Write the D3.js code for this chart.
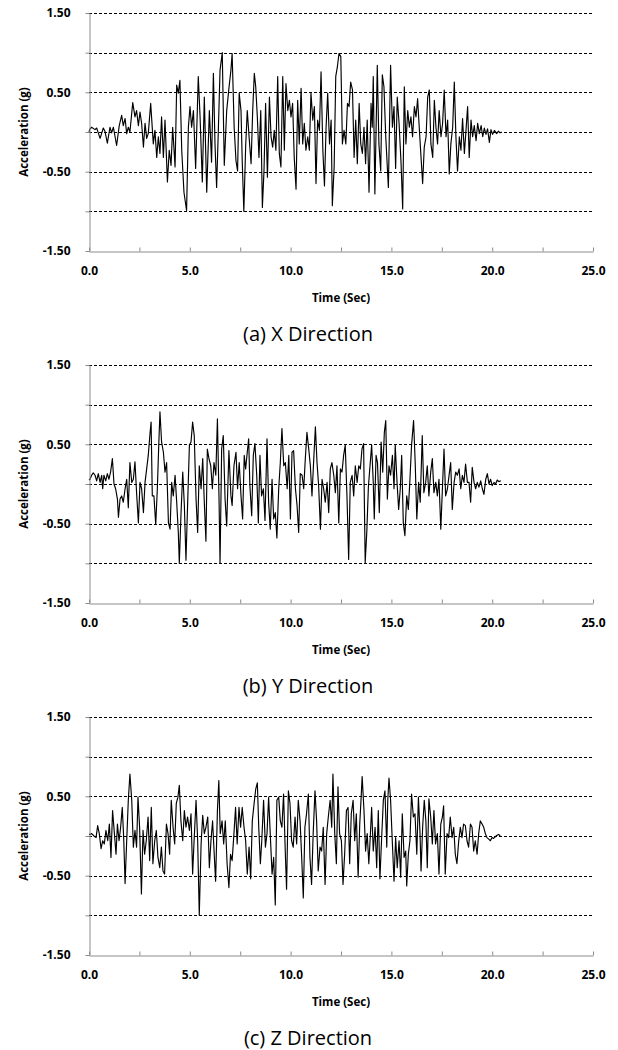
<!DOCTYPE html>
<html>
<head>
<meta charset="utf-8">
<script src="https://cdn.jsdelivr.net/npm/d3@7"></script>
<style>
  html, body { margin: 0; padding: 0; background: #fff; }
  svg { display: block; }
  text { font-family: "Open Sans", "Noto Sans", sans-serif; fill: #000; }
</style>
</head>
<body>
<svg id="chart" width="618" height="1050"></svg>
<script>
// Ground acceleration time histories, [time (s), acceleration (g)]
const xDirection = [[0,0.0],[0.05,0.04],[0.13,0.06],[0.30,0.03],[0.38,0.05],[0.55,-0.08],[0.71,0.05],[0.79,0.01],[0.91,-0.14],[1.04,0.06],[1.12,-0.01],[1.21,0.06],[1.37,-0.17],[1.50,0.08],[1.62,0.21],[1.70,0.08],[1.79,0.17],[1.87,-0.02],[1.95,0.06],[2.03,0.0],[2.17,0.37],[2.28,0.19],[2.36,0.27],[2.45,0.08],[2.53,0.25],[2.61,0.11],[2.70,-0.19],[2.78,0.11],[2.86,-0.08],[2.94,-0.02],[3.06,0.36],[3.19,-0.15],[3.27,0.02],[3.36,-0.32],[3.44,-0.06],[3.52,-0.27],[3.60,0.19],[3.69,-0.32],[3.77,0.15],[3.89,-0.63],[3.98,-0.23],[4.07,-0.42],[4.15,0.06],[4.27,-0.44],[4.35,0.59],[4.43,0.49],[4.51,0.65],[4.60,-0.23],[4.71,-0.76],[4.84,-0.99],[4.93,0.06],[5.01,0.32],[5.09,0.06],[5.18,0.27],[5.29,-0.46],[5.42,0.70],[5.51,0.19],[5.62,-0.63],[5.72,0.44],[5.84,-0.76],[5.97,0.27],[6.08,-0.38],[6.17,0.74],[6.25,-0.15],[6.33,-0.70],[6.42,0.06],[6.50,0.78],[6.61,1.00],[6.71,-0.42],[6.83,0.27],[6.94,0.55],[7.04,0.78],[7.10,0.99],[7.20,0.06],[7.29,-0.36],[7.37,-0.49],[7.45,0.49],[7.54,0.27],[7.60,-0.36],[7.68,-1.0],[7.77,-0.19],[7.85,0.27],[7.94,-0.06],[8.04,-0.40],[8.12,0.27],[8.20,0.74],[8.27,0.57],[8.35,0.19],[8.43,-0.32],[8.52,0.27],[8.60,-0.95],[8.68,-0.49],[8.76,0.36],[8.85,-0.57],[8.95,0.44],[9.03,-0.06],[9.11,-0.19],[9.19,0.02],[9.27,-0.23],[9.36,0.70],[9.44,-0.27],[9.52,-0.44],[9.61,0.70],[9.69,-0.23],[9.77,0.61],[9.86,0.27],[9.94,0.40],[10.02,0.19],[10.10,0.36],[10.18,-0.32],[10.27,-0.72],[10.35,0.40],[10.43,-0.15],[10.52,0.55],[10.60,-0.15],[10.68,0.11],[10.76,-0.23],[10.85,-0.06],[10.93,-0.23],[11.01,0.49],[11.10,0.15],[11.18,0.32],[11.26,-0.65],[11.34,0.15],[11.43,0.02],[11.51,0.76],[11.60,-0.23],[11.68,-0.68],[11.76,0.06],[11.84,0.49],[11.93,-0.15],[12.01,0.15],[12.07,-0.93],[12.16,-0.44],[12.24,0.70],[12.32,0.82],[12.40,0.99],[12.49,0.95],[12.57,-0.15],[12.65,0.02],[12.74,-0.15],[12.82,0.36],[12.90,0.32],[12.98,0.63],[13.07,0.53],[13.15,-0.32],[13.23,0.15],[13.31,-0.40],[13.40,0.36],[13.48,-0.15],[13.56,-0.27],[13.64,0.06],[13.72,-0.40],[13.80,0.15],[13.89,-0.76],[13.99,0.36],[14.05,0.06],[14.10,0.70],[14.18,-0.78],[14.30,0.84],[14.38,-0.15],[14.47,-0.49],[14.55,0.72],[14.63,0.57],[14.72,-0.06],[14.85,-0.70],[14.96,0.84],[15.05,0.06],[15.13,0.32],[15.21,-0.46],[15.29,0.44],[15.38,0.11],[15.48,-0.40],[15.56,-0.97],[15.64,0.57],[15.72,-0.15],[15.81,0.27],[15.89,0.06],[15.97,0.19],[16.05,-0.06],[16.14,0.32],[16.22,0.19],[16.30,0.42],[16.39,0.02],[16.47,-0.32],[16.55,-0.65],[16.63,-0.19],[16.72,-0.06],[16.80,0.44],[16.88,0.53],[16.96,-0.15],[17.05,-0.32],[17.13,0.40],[17.21,0.06],[17.29,-0.15],[17.37,0.27],[17.46,-0.06],[17.54,0.11],[17.62,0.53],[17.71,-0.06],[17.79,0.15],[17.87,-0.53],[17.95,-0.15],[18.04,0.06],[18.12,0.63],[18.20,-0.06],[18.28,-0.49],[18.37,-0.06],[18.45,-0.23],[18.53,0.17],[18.62,-0.27],[18.70,0.02],[18.78,0.32],[18.86,-0.32],[18.95,0.15],[19.03,-0.06],[19.11,0.08],[19.20,-0.11],[19.28,0.11],[19.36,-0.02],[19.45,0.08],[19.53,-0.06],[19.61,0.05],[19.69,-0.03],[19.77,0.04],[19.86,-0.13],[19.94,0.03],[20.02,-0.03],[20.11,0.02],[20.22,-0.02],[20.31,0.01],[20.39,-0.01],[20.47,0.0]];

const yDirection = [[0,0.05],[0.05,0.06],[0.13,0.11],[0.21,0.14],[0.30,0.11],[0.38,0.04],[0.46,0.13],[0.55,0.02],[0.63,0.11],[0.68,-0.06],[0.74,0.11],[0.83,0.04],[0.91,0.13],[0.99,0.06],[1.07,0.15],[1.16,0.32],[1.24,0.0],[1.32,-0.06],[1.41,-0.19],[1.46,-0.42],[1.54,-0.19],[1.62,-0.15],[1.70,-0.23],[1.79,-0.06],[1.87,0.06],[1.95,-0.30],[2.03,0.27],[2.12,0.02],[2.20,0.06],[2.28,0.28],[2.36,-0.11],[2.45,-0.49],[2.53,0.02],[2.61,-0.06],[2.70,-0.36],[2.78,0.02],[2.86,0.19],[2.94,0.36],[3.03,0.65],[3.08,0.78],[3.14,-0.15],[3.22,-0.15],[3.31,-0.51],[3.39,-0.06],[3.46,0.49],[3.52,0.91],[3.60,0.53],[3.69,0.40],[3.77,0.15],[3.85,0.27],[3.94,-0.49],[4.02,-0.57],[4.10,0.02],[4.18,-0.15],[4.27,0.11],[4.35,-0.23],[4.43,-0.61],[4.48,-1.0],[4.56,-0.40],[4.65,0.15],[4.73,-0.27],[4.81,-0.96],[4.89,-0.27],[4.98,0.49],[5.06,0.53],[5.14,0.78],[5.22,0.61],[5.31,-0.19],[5.39,-0.61],[5.47,0.23],[5.56,-0.06],[5.64,0.32],[5.72,-0.23],[5.80,-0.72],[5.87,0.44],[5.95,0.32],[6.04,0.23],[6.12,-0.06],[6.20,0.27],[6.29,0.11],[6.37,0.82],[6.45,-0.19],[6.50,-1.0],[6.58,0.44],[6.66,0.61],[6.75,-0.19],[6.83,-0.53],[6.94,0.42],[7.04,-0.15],[7.10,-0.27],[7.19,0.23],[7.29,0.40],[7.37,-0.06],[7.45,0.27],[7.54,-0.15],[7.62,-0.44],[7.70,0.36],[7.77,0.19],[7.85,0.40],[7.92,0.57],[7.98,-0.02],[8.07,-0.40],[8.15,0.36],[8.23,0.51],[8.32,0.11],[8.40,-0.49],[8.48,0.36],[8.56,-0.15],[8.65,-0.06],[8.73,-0.46],[8.83,0.57],[8.91,-0.23],[8.99,-0.57],[9.08,0.06],[9.16,-0.44],[9.24,-0.36],[9.32,-0.68],[9.41,-0.06],[9.49,0.27],[9.57,0.70],[9.66,0.23],[9.74,0.27],[9.83,-0.06],[9.91,0.36],[9.99,-0.44],[10.07,0.40],[10.15,0.42],[10.24,-0.06],[10.32,-0.27],[10.40,-0.61],[10.48,0.13],[10.57,0.11],[10.65,-0.06],[10.73,0.32],[10.81,0.65],[10.90,0.44],[10.98,0.23],[11.06,-0.15],[11.15,0.32],[11.23,0.72],[11.31,0.27],[11.39,-0.02],[11.48,-0.57],[11.56,0.06],[11.64,-0.06],[11.72,-0.23],[11.81,0.02],[11.89,-0.36],[11.97,0.19],[12.05,0.27],[12.14,0.11],[12.22,-0.11],[12.30,0.23],[12.39,-0.49],[12.47,0.19],[12.55,0.15],[12.63,0.36],[12.71,0.49],[12.80,-0.19],[12.88,-0.95],[12.96,0.02],[13.05,0.11],[13.13,-0.15],[13.21,0.23],[13.30,0.02],[13.38,0.23],[13.46,0.19],[13.54,0.44],[13.62,0.51],[13.70,-0.99],[13.78,-0.60],[13.86,-0.03],[13.94,0.23],[14.02,0.49],[14.10,0.02],[14.15,-0.44],[14.24,0.36],[14.31,0.27],[14.40,-0.36],[14.49,0.53],[14.57,0.15],[14.65,0.65],[14.72,0.80],[14.80,-0.19],[14.88,0.23],[14.96,0.11],[15.05,0.36],[15.13,-0.06],[15.19,0.49],[15.28,0.02],[15.36,-0.32],[15.44,-0.06],[15.51,0.36],[15.59,-0.49],[15.67,-0.65],[15.76,-0.15],[15.84,-0.32],[15.92,0.06],[16.00,0.49],[16.10,0.80],[16.18,0.27],[16.26,-0.44],[16.35,0.02],[16.43,-0.23],[16.53,0.61],[16.61,-0.11],[16.70,0.02],[16.78,0.23],[16.86,-0.15],[16.95,0.15],[17.03,0.32],[17.11,-0.11],[17.20,0.02],[17.28,-0.15],[17.36,0.06],[17.45,-0.57],[17.53,-0.06],[17.61,0.44],[17.69,-0.15],[17.78,-0.06],[17.86,0.11],[17.94,0.27],[18.02,-0.32],[18.11,0.02],[18.19,0.15],[18.27,0.11],[18.36,0.19],[18.44,-0.06],[18.52,0.11],[18.60,0.02],[18.68,0.25],[18.77,0.02],[18.85,0.02],[18.93,-0.23],[19.01,0.21],[19.10,0.02],[19.18,-0.06],[19.26,0.02],[19.34,-0.04],[19.43,0.04],[19.51,-0.06],[19.59,-0.13],[19.68,0.06],[19.76,0.13],[19.84,0.0],[19.92,0.06],[20.00,-0.02],[20.09,0.02],[20.17,0.0],[20.25,0.05],[20.33,0.03],[20.43,0.04]];

const zDirection = [[0,0.02],[0.05,0.02],[0.13,0.03],[0.25,0.0],[0.35,-0.02],[0.43,0.13],[0.51,0.03],[0.60,-0.16],[0.68,-0.06],[0.76,-0.10],[0.84,0.07],[0.93,-0.06],[1.01,0.15],[1.09,-0.27],[1.17,0.32],[1.26,0.03],[1.34,-0.23],[1.41,0.15],[1.49,-0.06],[1.57,0.11],[1.65,0.36],[1.72,-0.02],[1.79,-0.60],[1.87,-0.06],[1.95,0.45],[2.03,0.78],[2.12,0.45],[2.20,-0.14],[2.28,0.07],[2.36,-0.14],[2.43,0.49],[2.51,0.11],[2.60,-0.73],[2.68,0.07],[2.76,-0.23],[2.84,-0.06],[2.93,0.24],[3.01,-0.31],[3.09,0.36],[3.17,-0.35],[3.26,-0.06],[3.34,0.07],[3.42,-0.27],[3.51,-0.40],[3.59,-0.14],[3.67,-0.44],[3.75,-0.48],[3.84,0.15],[3.92,0.03],[4.00,-0.23],[4.08,0.45],[4.17,0.11],[4.25,-0.10],[4.33,0.41],[4.41,0.49],[4.48,0.64],[4.56,0.19],[4.65,-0.06],[4.73,0.32],[4.81,0.11],[4.89,0.24],[4.98,0.07],[5.06,0.28],[5.14,-0.48],[5.22,-0.02],[5.31,0.45],[5.39,-0.06],[5.47,-1.0],[5.56,-0.10],[5.64,0.26],[5.72,0.03],[5.80,0.11],[5.89,0.24],[5.97,-0.40],[6.05,-0.06],[6.13,0.19],[6.22,-0.27],[6.28,-0.57],[6.37,0.32],[6.44,0.70],[6.51,0.03],[6.60,0.19],[6.68,-0.10],[6.76,0.19],[6.85,-0.35],[6.94,-0.65],[7.02,-0.23],[7.10,-0.31],[7.19,0.03],[7.27,0.36],[7.35,-0.10],[7.44,0.36],[7.52,0.11],[7.60,0.36],[7.69,0.11],[7.77,-0.06],[7.85,-0.48],[7.94,-0.14],[8.02,-0.54],[8.10,0.19],[8.19,0.41],[8.27,0.59],[8.35,0.67],[8.42,0.11],[8.50,-0.35],[8.57,-0.06],[8.66,0.45],[8.75,-0.14],[8.83,0.03],[8.91,0.49],[8.99,0.03],[9.08,-0.48],[9.16,-0.27],[9.24,-0.87],[9.32,0.45],[9.41,0.49],[9.49,0.19],[9.57,0.11],[9.65,0.53],[9.74,-0.23],[9.80,-0.67],[9.89,0.57],[9.97,0.41],[10.05,-0.06],[10.13,-0.14],[10.22,0.24],[10.30,-0.10],[10.38,0.45],[10.47,0.19],[10.55,-0.27],[10.63,-0.78],[10.71,0.11],[10.79,0.28],[10.88,0.53],[10.96,-0.27],[11.04,-0.61],[11.12,0.03],[11.21,0.57],[11.29,0.19],[11.37,-0.44],[11.46,-0.14],[11.54,-0.19],[11.62,0.11],[11.71,-0.61],[11.79,0.03],[11.87,0.24],[11.96,0.45],[12.04,0.11],[12.10,0.78],[12.19,0.03],[12.27,-0.35],[12.35,0.62],[12.43,0.03],[12.52,-0.06],[12.60,-0.61],[12.68,-0.23],[12.77,0.32],[12.85,0.36],[12.93,-0.35],[13.01,0.28],[13.10,0.45],[13.18,-0.06],[13.26,0.28],[13.35,-0.52],[13.43,0.15],[13.50,0.49],[13.55,0.75],[13.64,0.32],[13.72,-0.19],[13.80,0.03],[13.88,-0.35],[13.96,0.03],[14.02,0.36],[14.10,-0.19],[14.19,0.11],[14.27,-0.40],[14.35,0.32],[14.43,-0.54],[14.51,-0.06],[14.60,0.45],[14.68,0.57],[14.77,-0.14],[14.82,0.45],[14.88,0.73],[14.96,0.45],[15.05,-0.10],[15.13,-0.57],[15.21,-0.02],[15.29,-0.40],[15.38,-0.06],[15.46,-0.52],[15.54,0.28],[15.63,-0.27],[15.71,-0.19],[15.76,-0.63],[15.84,-0.23],[15.92,-0.06],[16.00,0.53],[16.09,0.24],[16.17,0.28],[16.26,-0.23],[16.34,0.49],[16.42,0.03],[16.47,-0.44],[16.55,0.11],[16.63,0.45],[16.71,0.19],[16.78,-0.40],[16.86,0.47],[16.95,0.24],[17.03,-0.10],[17.11,0.32],[17.19,-0.10],[17.28,0.03],[17.36,-0.48],[17.45,0.15],[17.53,0.24],[17.59,0.38],[17.67,-0.48],[17.76,0.03],[17.84,-0.02],[17.92,0.24],[18.01,-0.02],[18.09,0.11],[18.17,-0.23],[18.25,-0.35],[18.34,-0.06],[18.42,0.11],[18.50,-0.02],[18.58,0.15],[18.67,0.13],[18.75,-0.06],[18.83,-0.14],[18.92,0.15],[19.00,0.11],[19.08,-0.19],[19.16,-0.06],[19.25,-0.23],[19.33,0.03],[19.41,0.19],[19.50,0.15],[19.58,0.11],[19.66,0.03],[19.74,-0.02],[19.83,-0.04],[19.91,-0.06],[19.99,-0.02],[20.07,-0.03],[20.15,-0.01],[20.24,0.01],[20.32,0.02],[20.40,0.0]];

// Axis ticks and labels
const timeTicks = [0, 2.5, 5, 7.5, 10, 12.5, 15, 17.5, 20, 22.5, 25];
const timeLabels = [0, 5, 10, 15, 20, 25];
const accelTicks = [-1.5, -1.0, -0.5, 0, 0.5, 1.0, 1.5];
const accelLabels = [-1.5, -0.5, 0.5, 1.5];
const gridValues = [-1.0, -0.5, 0, 0.5, 1.0, 1.5];
const captions = ["(a) X Direction", "(b) Y Direction", "(c) Z Direction"];
const series = [xDirection, yDirection, zDirection];

const svg = d3.select("#chart");
const left = 89, right = 593, plotH = 238, panelStep = 352, firstTop = 13;
const axisGray = "#8c8c8c";

const x = d3.scaleLinear().domain([0, 25]).range([left, right]);

series.forEach((data, i) => {
  const top = firstTop + i * panelStep;
  const bottom = top + plotH;
  const y = d3.scaleLinear().domain([-1.5, 1.5]).range([bottom, top]);
  const g = svg.append("g");

  // dashed horizontal grid
  g.append("g").selectAll("line").data(gridValues).join("line")
    .attr("x1", left).attr("x2", right)
    .attr("y1", d => Math.round(y(d)) + 0.5).attr("y2", d => Math.round(y(d)) + 0.5)
    .attr("stroke", "#000").attr("stroke-width", 1)
    .attr("stroke-dasharray", "3,2");

  // acceleration trace
  const line = d3.line().x(d => x(d[0])).y(d => y(d[1])).curve(d3.curveLinear);
  g.append("path").datum(data)
    .attr("d", line)
    .attr("fill", "none").attr("stroke", "#000").attr("stroke-width", 1.15)
    .attr("stroke-linejoin", "round");

  // y axis (plain hyphen for negative labels)
  const yAxis = d3.axisLeft(y).tickValues(accelTicks).tickSizeInner(4).tickSizeOuter(0)
    .tickPadding(15)
    .tickFormat(d => accelLabels.some(v => Math.abs(v - d) < 1e-9) ? d.toFixed(2) : "");
  const ya = g.append("g").attr("transform", `translate(${left + 0.5},0)`).call(yAxis);
  ya.select(".domain").attr("stroke", axisGray);
  ya.selectAll(".tick line").attr("stroke", axisGray);
  ya.selectAll("text").attr("font-size", 12).attr("font-weight", 700)
    .attr("font-family", "'Open Sans', sans-serif").attr("fill", "#000");

  // x axis
  const xAxis = d3.axisBottom(x).tickValues(timeTicks).tickSizeInner(-4).tickSizeOuter(0)
    .tickPadding(15)
    .tickFormat(d => timeLabels.includes(d) ? d.toFixed(1) : "");
  const xa = g.append("g").attr("transform", `translate(0,${bottom + 0.5})`).call(xAxis);
  xa.select(".domain").attr("stroke", axisGray);
  xa.selectAll(".tick line").attr("stroke", axisGray);
  xa.selectAll("text").attr("font-size", 12).attr("font-weight", 700)
    .attr("font-family", "'Open Sans', sans-serif").attr("fill", "#000");

  // axis titles
  g.append("text")
    .attr("transform", `translate(23,${(top + bottom) / 2}) rotate(-90)`)
    .attr("text-anchor", "middle").attr("dominant-baseline", "central")
    .attr("font-size", 11.5).attr("font-weight", 700)
    .text("Acceleration (g)");

  g.append("text")
    .attr("x", (left + right) / 2).attr("y", bottom + 46)
    .attr("text-anchor", "middle").attr("dominant-baseline", "central")
    .attr("font-size", 11.5).attr("font-weight", 700)
    .text("Time (Sec)");

  // panel caption
  svg.append("text")
    .attr("x", 308).attr("y", bottom + 82)
    .attr("text-anchor", "middle").attr("dominant-baseline", "central")
    .attr("font-size", 20)
    .text(captions[i]);
});
</script>
</body>
</html>
